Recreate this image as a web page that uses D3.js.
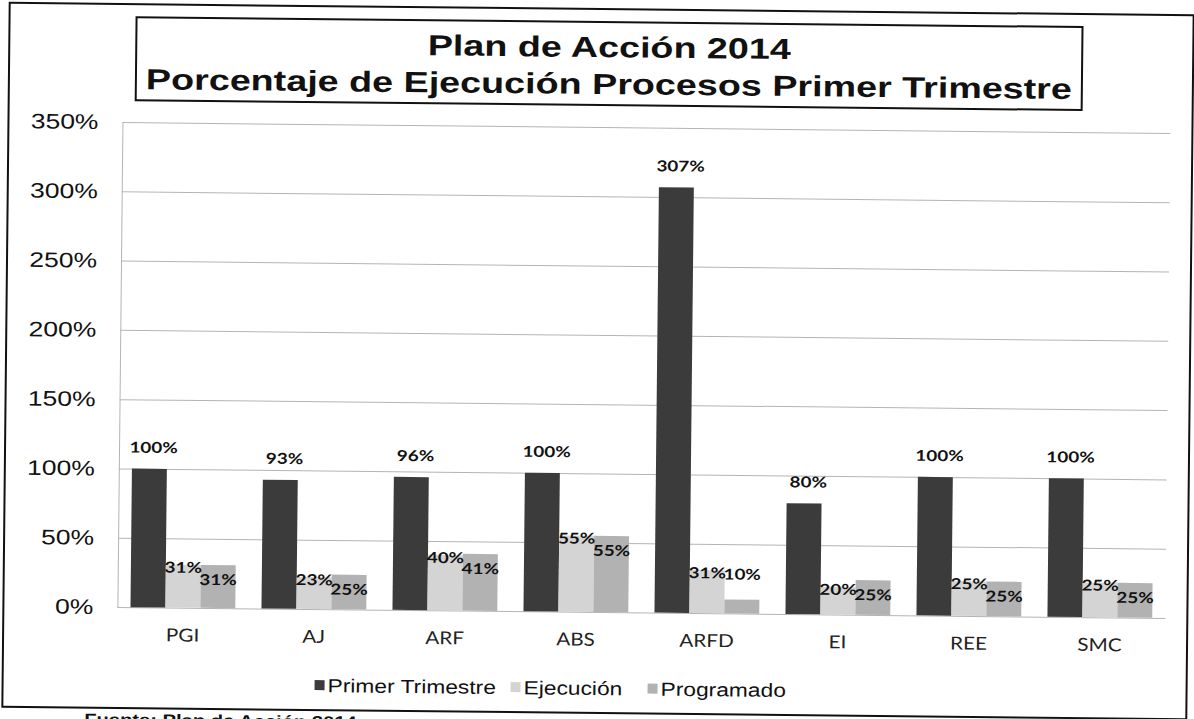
<!DOCTYPE html>
<html>
<head>
<meta charset="utf-8">
<script src="https://cdn.jsdelivr.net/npm/d3@7"></script>
<style>
  html, body { margin: 0; padding: 0; background: #fff; }
  #chart { width: 1194px; height: 719px; overflow: hidden; }
</style>
</head>
<body>
<div id="chart"></div>
<script>
// values
const categories = ['PGI', 'AJ', 'ARF', 'ABS', 'ARFD', 'EI', 'REE', 'SMC'];
const seriesNames = ['Primer Trimestre', 'Ejecución', 'Programado'];
const primerTrimestre = [100, 93, 96, 100, 307, 80, 100, 100];
const ejecucion = [31, 23, 40, 55, 31, 20, 25, 25];
const programado = [31, 25, 41, 55, 10, 25, 25, 25];
const yTicks = [0, 50, 100, 150, 200, 250, 300, 350];
const titleLines = ['Plan de Acción 2014', 'Porcentaje de Ejecución Procesos Primer Trimestre'];
const footerText = 'Fuente: Plan de Acción 2014';

const W = 1194, H = 719;
const SX = 1.26; // the scan is stretched sideways, so text is too
const colors = { 'Primer Trimestre': '#3b3b3b', 'Ejecución': '#d4d4d4', 'Programado': '#b2b2b2' };

const seriesValues = {
  'Primer Trimestre': primerTrimestre,
  'Ejecución': ejecucion,
  'Programado': programado
};

const svg = d3.select('#chart').append('svg')
  .attr('width', W)
  .attr('height', H);

svg.append('rect').attr('width', W).attr('height', H).attr('fill', '#fff');

// whole page is slightly tilted in the scan
const g = svg.append('g').attr('transform', 'rotate(0.6,597,360)');

function addText(parent, x, y, str, size, weight, family, anchor, sx) {
  return parent.append('text')
    .attr('transform', `translate(${x},${y}) scale(${sx || SX},1)`)
    .attr('text-anchor', anchor || 'middle')
    .style('font-family', family)
    .style('font-size', size + 'px')
    .style('font-weight', weight)
    .attr('fill', '#111')
    .text(str);
}

// outer frame
g.append('rect')
  .attr('x', 6).attr('y', 9)
  .attr('width', 1184).attr('height', 704)
  .attr('fill', 'none')
  .attr('stroke', '#111')
  .attr('stroke-width', 2);

// title box
g.append('rect')
  .attr('x', 133).attr('y', 22)
  .attr('width', 946).attr('height', 83)
  .attr('fill', '#fff')
  .attr('stroke', '#111')
  .attr('stroke-width', 2);

const titleFont = '"Liberation Sans", Arial, sans-serif';
addText(g, 606, 57, titleLines[0], 29, 'bold', titleFont, 'middle', 1.3);
addText(g, 606, 94, titleLines[1], 29, 'bold', titleFont, 'middle', 1.3);

// scales
const plotLeft = 120, plotRight = 1168, plotTop = 127, plotBottom = 612;

const x0 = d3.scaleBand()
  .domain(categories)
  .range([plotLeft, plotRight])
  .paddingInner(0.2)
  .paddingOuter(0.1);

const x1 = d3.scaleBand()
  .domain(seriesNames)
  .range([0, x0.bandwidth()]);

const y = d3.scaleLinear()
  .domain([0, 350])
  .range([plotBottom, plotTop]);

// gridlines + left axis line
const grid = g.append('g')
  .attr('transform', `translate(${plotLeft},0)`)
  .call(d3.axisLeft(y).tickValues(yTicks).tickSize(-(plotRight - plotLeft)).tickSizeOuter(0).tickFormat(''));
grid.selectAll('line').attr('stroke', '#b4b4b4').attr('stroke-width', 1);
grid.select('.domain').attr('stroke', '#b4b4b4');

// y tick labels
const yAxis = g.append('g')
  .attr('transform', 'translate(96,0)')
  .call(d3.axisLeft(y).tickValues(yTicks).tickSize(0).tickPadding(0).tickFormat(d => d + '%'));
yAxis.select('.domain').remove();
yAxis.selectAll('text')
  .attr('x', 0)
  .attr('transform', `scale(${SX},1)`)
  .attr('fill', '#111')
  .style('font-family', titleFont)
  .style('font-size', '21px');

// category labels
const xAxis = g.append('g')
  .attr('transform', `translate(0,${plotBottom})`)
  .call(d3.axisBottom(x0).tickSize(0).tickPadding(21));
xAxis.select('.domain').remove();
xAxis.selectAll('text')
  .attr('transform', `scale(1.15,1)`)
  .attr('fill', '#222')
  .style('font-family', 'Lato, "Open Sans", sans-serif')
  .style('font-size', '18px');

// bars
const groups = g.selectAll('.cat')
  .data(categories)
  .enter()
  .append('g')
  .attr('class', 'cat')
  .attr('transform', d => `translate(${x0(d)},0)`);

groups.selectAll('rect')
  .data((d, i) => seriesNames.map(s => ({ s: s, v: seriesValues[s][i] })))
  .enter()
  .append('rect')
  .attr('x', d => x1(d.s))
  .attr('y', d => y(d.v))
  .attr('width', x1.bandwidth())
  .attr('height', d => y(0) - y(d.v))
  .attr('fill', d => colors[d.s]);

// data labels
const labelFont = 'Lato, "Open Sans", sans-serif';
groups.each(function (cat, i) {
  const grp = d3.select(this);
  const cx = s => x1(s) + x1.bandwidth() / 2;
  addText(grp, cx('Primer Trimestre') + 4, y(primerTrimestre[i]) - 16, primerTrimestre[i] + '%', 15, 'bold', labelFont);
  addText(grp, cx('Ejecución'), y(ejecucion[i]) + 8, ejecucion[i] + '%', 15, 'bold', labelFont);
  const pv = programado[i];
  const py = pv >= 20 ? y(pv) + 20 : y(pv) - 20;
  addText(grp, cx('Programado'), py, pv + '%', 15, 'bold', labelFont);
});

// legend
const legendX = [318, 514, 651];
const legend = g.append('g').attr('transform', 'translate(0,688)');
seriesNames.forEach((s, i) => {
  legend.append('rect')
    .attr('x', legendX[i]).attr('y', -5)
    .attr('width', 10).attr('height', 10)
    .attr('fill', colors[s]);
  addText(legend, legendX[i] + 13, 7, s, 19, 'normal', titleFont, 'start', 1.2);
});

// footer, cut off by the page edge like in the scan
addText(g, 88, 730, footerText, 16, 'bold', titleFont, 'start');
</script>
</body>
</html>
